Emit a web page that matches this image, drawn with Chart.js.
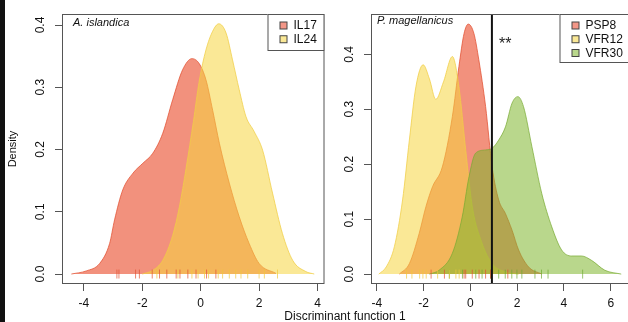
<!DOCTYPE html>
<html><head><meta charset="utf-8">
<script src="https://cdn.jsdelivr.net/npm/chart.js@4/dist/chart.umd.min.js"></script>
<style>
html,body{margin:0;padding:0;background:#fff;overflow:hidden;width:628px;height:322px;}
#wrap{position:relative;width:628px;height:322px;overflow:hidden;}
#c1{position:absolute;left:0;top:0;}
#c2{position:absolute;left:330px;top:0;}
#bar{position:absolute;left:0;top:0;width:5px;height:322px;background:#111;}
#xt{position:absolute;top:309px;left:245px;width:200px;text-align:center;font:12px "Liberation Sans",Arial,sans-serif;color:#111;line-height:14px;}
</style></head><body>
<div id="wrap">
<canvas id="c1" width="330" height="322"></canvas>
<canvas id="c2" width="310" height="322"></canvas>
<div id="bar"></div>
<div id="xt">Discriminant function 1</div>
</div>
<script>
// ---- Data ----
const xTitle = 'Discriminant function 1';
const yTitle = 'Density';
const leftTitle = 'A. islandica';
const rightTitle = 'P. magellanicus';
const leftSeries = ['IL17', 'IL24'];
const rightSeries = ['PSP8', 'VFR12', 'VFR30'];
const cutoffValue = 0.92;
const cutoffMark = '**';

const il17X = [-4.43,-3.92,-3.46,-3.12,-2.95,-2.67,-2.32,-1.98,-1.64,-1.30,-0.96,-0.62,-0.30,-0.05,0.18,0.41,0.64,0.98,1.32,1.66,2.0,2.58];
const il17Y = [0,0.005,0.017,0.049,0.087,0.135,0.162,0.178,0.194,0.226,0.28,0.328,0.346,0.338,0.312,0.263,0.21,0.146,0.092,0.049,0.017,0.001];
const il24X = [-2.0,-1.64,-1.3,-0.96,-0.73,-0.5,-0.25,-0.05,0.18,0.41,0.62,0.87,1.09,1.32,1.55,1.83,2.12,2.46,2.8,3.15,3.6,3.89];
const il24Y = [0,0.006,0.022,0.062,0.108,0.17,0.245,0.31,0.36,0.39,0.402,0.387,0.344,0.296,0.253,0.229,0.199,0.13,0.065,0.022,0.004,0];
const il17Rug = [-2.87,-2.8,-2.23,-2.1,-1.66,-1.41,-1.16,-0.84,-0.71,-0.44,-0.16,0.2,0.52];
const il24Rug = [-1.5,-0.78,-0.3,-0.09,0.13,0.27,0.6,0.75,0.98,1.2,1.38,1.61,2.0,2.18,2.63];

const psp8X = [-3.04,-2.61,-2.19,-1.9,-1.62,-1.2,-0.77,-0.49,-0.27,-0.09,0.15,0.36,0.65,0.93,1.21,1.5,1.78,2.06,2.49,3.05];
const psp8Y = [0,0.019,0.074,0.123,0.159,0.195,0.287,0.378,0.438,0.455,0.438,0.39,0.305,0.195,0.135,0.11,0.08,0.044,0.013,0];
const vfr12X = [-3.92,-3.6,-3.25,-2.9,-2.61,-2.33,-2.02,-1.75,-1.48,-1.15,-0.77,-0.49,-0.2,0.08,0.5,0.93,1.5,2.06];
const vfr12Y = [0,0.013,0.05,0.135,0.244,0.341,0.381,0.355,0.318,0.35,0.396,0.341,0.226,0.123,0.056,0.019,0.004,0];
const vfr30X = [-1.76,-1.34,-0.77,-0.35,-0.06,0.22,0.65,0.93,1.21,1.5,1.78,2.03,2.27,2.63,3.05,3.48,3.9,4.33,4.75,5.18,5.75,6.45];
const vfr30Y = [0,0.007,0.038,0.104,0.177,0.22,0.226,0.229,0.244,0.268,0.311,0.323,0.305,0.232,0.147,0.086,0.044,0.033,0.033,0.025,0.007,0];
const psp8Rug = [-1.68,-1.11,-0.27,-0.2,0.08,0.37,0.65,0.86,1.6];
const vfr12Rug = [-2.73,-2.5,-2.17,-2.03,-1.89,-1.4,-0.9,-0.62,-0.48];
const vfr30Rug = [-0.9,-0.34,0.23,0.5,0.86,1.21,1.49,1.77,1.99,2.2,2.76,3.04,3.32,4.8];

// ---- Styles ----
const FONT = '"Liberation Sans", Arial, sans-serif';
const RED = {fill:'rgba(233,72,38,0.6)', line:'rgba(225,80,50,0.75)', rug:'rgba(225,80,50,0.7)', key:'rgb(242,150,135)'};
const YEL = {fill:'rgba(246,213,64,0.55)', line:'rgba(240,205,70,0.75)', rug:'rgba(240,200,60,0.7)', key:'rgb(250,232,150)'};
const GRN = {fill:'rgba(128,182,46,0.55)', line:'rgba(120,170,50,0.7)', rug:'rgba(110,170,50,0.7)', key:'rgb(185,215,140)'};

function pts(xs, ys){ return xs.map((x,i)=>({x:x, y:ys[i]})); }
function rug(xs){ return xs.map(x=>({x:x, y:0})); }

function density(label, xs, ys, c, order){
  return {label:label, data:pts(xs,ys), legendColor:c.key, backgroundColor:c.fill, borderColor:c.line,
    borderWidth:1, fill:'origin', pointRadius:0, cubicInterpolationMode:'monotone', order:order};
}
function rugSet(xs, c){
  return {label:'', data:rug(xs), showLine:false, fill:false, pointStyle:'line', pointRotation:90,
    pointRadius:4.5, pointBorderColor:c.rug, pointBorderWidth:1, borderColor:c.rug, order:0};
}

const boxPlugin = {
  id:'panelBox',
  afterDatasetsDraw(chart, args, o){
    const ctx = chart.ctx, a = chart.chartArea;
    ctx.save();
    if (o.cutoff !== undefined && o.cutoff !== null){
      const x = chart.scales.x.getPixelForValue(o.cutoff);
      ctx.strokeStyle = '#111'; ctx.lineWidth = 2;
      ctx.beginPath(); ctx.moveTo(x, a.top); ctx.lineTo(x, a.bottom); ctx.stroke();
      ctx.fillStyle = '#222'; ctx.font = '16px ' + FONT; ctx.textBaseline = 'middle'; ctx.textAlign = 'left';
      ctx.fillText(o.mark, x + 7, a.top + 31);
    }
    ctx.strokeStyle = '#555'; ctx.lineWidth = 1;
    ctx.strokeRect(a.left + 0.5, a.top + 0.5, a.right - a.left - 1, a.bottom - a.top - 1);
    ctx.fillStyle = '#111'; ctx.font = 'italic 11px ' + FONT; ctx.textBaseline = 'middle'; ctx.textAlign = 'left';
    ctx.fillText(o.title, a.left + o.titleDx, a.top + o.titleDy);
    const items = chart.data.datasets.filter(d => d.legendColor);
    const lw = o.legendWidth, h = 13 + 12 * items.length, lx = a.right - lw;
    ctx.fillStyle = '#fff'; ctx.fillRect(lx, a.top, lw, h);
    ctx.strokeStyle = '#555'; ctx.strokeRect(lx + 0.5, a.top + 0.5, lw - 1, h - 1);
    items.forEach((d, i) => {
      const cy = a.top + 11.5 + i * 13.75;
      ctx.fillStyle = d.legendColor; ctx.fillRect(lx + 12.5, cy - 3.5, 7, 7);
      ctx.strokeStyle = '#444'; ctx.strokeRect(lx + 12.5, cy - 3.5, 7, 7);
      ctx.fillStyle = '#111'; ctx.font = '12px ' + FONT;
      ctx.fillText(d.label, lx + 26, cy + 0.5);
    });
    ctx.restore();
  }
};

function axes(xmin, xmax, ymin, ymax, yWidth, withTitle){
  const grid = {display:true, drawOnChartArea:false, drawTicks:true, tickLength:7, color:'#555', lineWidth:1};
  return {
    x:{type:'linear', min:xmin, max:xmax, afterFit(s){ s.height = 38; }, border:{display:false}, grid:grid,
      ticks:{stepSize:2, includeBounds:false, autoSkip:false, maxRotation:0, minRotation:0, padding:5, color:'#111',
        font:{size:12, family:FONT}, callback:v => String(v)}},
    y:{type:'linear', min:ymin, max:ymax, afterFit(s){ s.width = yWidth; }, border:{display:false}, grid:grid,
      ticks:{stepSize:0.1, includeBounds:false, autoSkip:false, minRotation:90, maxRotation:90, crossAlign:'center',
        padding:6, color:'#111', font:{size:12, family:FONT}, callback:v => v.toFixed(1)},
      title:{display:withTitle, text:yTitle, color:'#111', font:{size:11, family:FONT}, padding:{top:6.5, bottom:0}}}
  };
}

function common(scales, plug, padRight){
  return {responsive:false, animation:false, events:[], devicePixelRatio:1,
    layout:{padding:{top:14, right:padRight, left:0, bottom:0}},
    plugins:{legend:{display:false}, tooltip:{enabled:false}, panelBox:plug},
    scales:scales};
}

new Chart(document.getElementById('c1'), {
  type:'line',
  data:{datasets:[
    density(leftSeries[0], il17X, il17Y, RED, 3),
    density(leftSeries[1], il24X, il24Y, YEL, 2),
    rugSet(il17Rug, RED), rugSet(il24Rug, YEL)
  ]},
  options:common(axes(-4.75, 4.24, -0.016, 0.4177, 62, true),
    {title:leftTitle, titleDx:11, titleDy:9, legendWidth:57}, 5),
  plugins:[boxPlugin]
});

new Chart(document.getElementById('c2'), {
  type:'line',
  data:{datasets:[
    density(rightSeries[0], psp8X, psp8Y, RED, 3),
    density(rightSeries[1], vfr12X, vfr12Y, YEL, 2),
    density(rightSeries[2], vfr30X, vfr30Y, GRN, 1),
    rugSet(psp8Rug, RED), rugSet(vfr12Rug, YEL), rugSet(vfr30Rug, GRN)
  ]},
  options:common(axes(-4.25, 7.017, -0.018, 0.4734, 41, false),
    {title:rightTitle, titleDx:6, titleDy:7, legendWidth:75, cutoff:cutoffValue, mark:cutoffMark}, 3),
  plugins:[boxPlugin]
});
</script>
</body></html>
